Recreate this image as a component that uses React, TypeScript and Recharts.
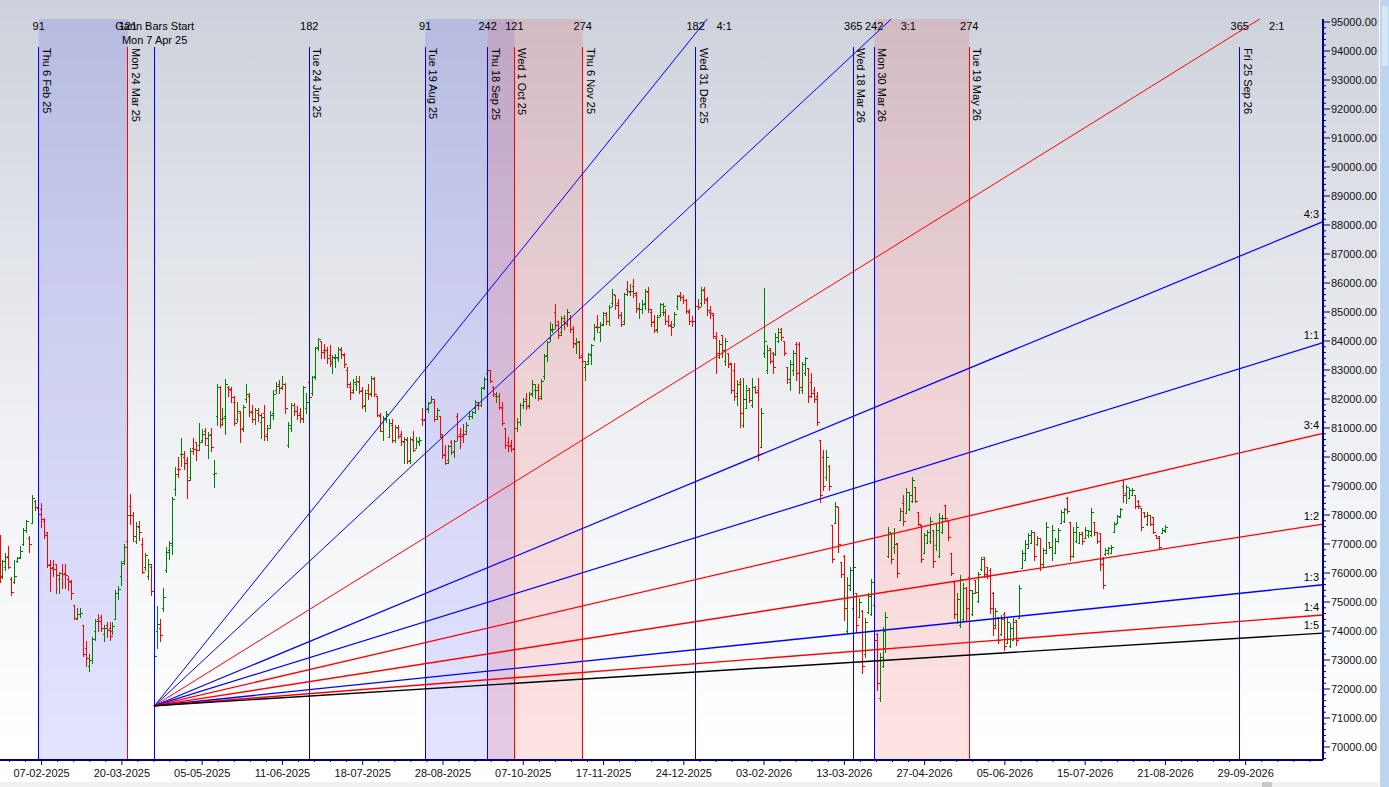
import React from 'react';
import { ComposedChart, Bar, XAxis, YAxis, ReferenceArea, ReferenceLine, ReferenceDot } from 'recharts';

type Ohlc = [number, number, number, number];

// trading-day slots 0-51 (21 Jan - 4 Apr 2025)
const barsJan25: Ohlc[] = [
  [76900, 77300, 75700, 75850], [75900, 76450, 75830, 76400], [76200, 76700, 76100, 76550], [76600, 76920, 76170, 76200],
  [75800, 75870, 75240, 75360], [75700, 76450, 75650, 75900], [76400, 76560, 76390, 76530], [76550, 76920, 76520, 76760],
  [77000, 77550, 76970, 77500], [77500, 77830, 77430, 77780], [77200, 77270, 76740, 77000], [77710, 78690, 77710, 78580],
  [78500, 78520, 78170, 78270], [78250, 78300, 77600, 78050], [78200, 78400, 77600, 77860], [77800, 77900, 77200, 77311],
  [77400, 77400, 76200, 76293], [76300, 76450, 75390, 76171], [76200, 76450, 75900, 76138], [76300, 76300, 75300, 75939],
  [75800, 76050, 75300, 75997], [76000, 76300, 75500, 75967], [76000, 76300, 75480, 75939], [75800, 75900, 75400, 75736],
  [75700, 75750, 75100, 75311], [74900, 74900, 74400, 74454], [74400, 74800, 74400, 74602], [74600, 74800, 74500, 74612],
  [74200, 74200, 73140, 73198], [73400, 73650, 72800, 73086], [72800, 73200, 72630, 72990], [73000, 73800, 72900, 73730],
  [74000, 74400, 73700, 74340], [74400, 74600, 74000, 74333], [74500, 74550, 74000, 74115], [73900, 74200, 73650, 74102],
  [74200, 74300, 73800, 74030], [74100, 74300, 73700, 73829], [74000, 74300, 73900, 74170], [74400, 75400, 74400, 75301],
  [75300, 75550, 75100, 75449], [75900, 76400, 75600, 76348], [76400, 77000, 76300, 76906], [77100, 78100, 77000, 77984],
  [78300, 78740, 77700, 78017], [78000, 78100, 77100, 77288], [77100, 77750, 77050, 77606], [77600, 77800, 77150, 77415],
  [77000, 77200, 76000, 76025], [76200, 76700, 76100, 76617], [75900, 76500, 75800, 76295], [76200, 76300, 75250, 75365],
];

// slots 52-108 (7 Apr - 30 Jun 2025)
const barsApr25: Ohlc[] = [
  [71450, 73400, 71425, 73138], [74000, 74860, 73400, 74227], [74100, 74400, 73670, 73847], [74800, 75470, 74700, 75157],
  [76100, 76900, 76050, 76735], [76800, 77100, 76500, 77044], [76970, 78620, 76660, 78553], [78900, 79640, 78700, 79408],
  [79600, 80000, 79300, 79596], [80100, 80640, 79700, 80116], [80000, 80200, 79600, 79801], [79900, 80000, 78600, 79212],
  [79300, 80300, 79200, 80218], [80300, 80660, 80100, 80288], [80500, 80500, 79900, 80242], [80400, 81180, 80250, 80502],
  [80600, 80950, 80500, 80797], [80900, 81000, 80400, 80641], [80400, 80850, 79950, 80746], [80800, 81000, 80200, 80334],
  [79400, 79900, 78970, 79454], [81400, 82500, 81100, 82430], [82400, 82450, 81050, 81148], [81300, 81700, 81100, 81330],
  [81400, 82700, 80800, 82531], [82400, 82450, 82100, 82330], [82300, 82400, 81900, 82059], [81900, 82100, 81100, 81186],
  [81300, 81900, 81200, 81597], [81500, 81600, 80500, 80952], [81000, 81800, 80900, 81721], [82000, 82500, 81900, 82176],
  [82100, 82200, 81400, 81551], [81600, 81800, 81200, 81312], [81300, 81700, 81150, 81633], [81500, 81700, 81250, 81451],
  [81200, 81500, 80650, 81374], [81500, 81800, 80580, 80737], [80800, 81100, 80600, 80998], [81100, 81600, 81000, 81442],
  [81500, 82300, 81300, 82189], [82300, 82600, 82200, 82445], [82500, 82650, 82200, 82392], [82400, 82780, 82350, 82515],
  [82500, 82550, 81500, 81691], [80400, 81200, 80350, 81118], [81000, 81850, 80900, 81796], [81800, 81850, 81450, 81583],
  [81600, 81750, 81300, 81444], [81500, 81700, 81200, 81361], [81300, 82450, 81200, 82408], [81700, 82200, 81500, 81897],
  [82600, 83000, 81900, 82055], [82200, 82800, 82150, 82755], [82800, 83800, 82700, 83755], [83800, 84100, 83700, 84058],
  [84000, 84000, 83400, 83606],
];

// slots 109-172 (1 Jul - 30 Sep 2025)
const barsJul25: Ohlc[] = [
  [83700, 83900, 83400, 83697], [83700, 83800, 83250, 83409], [83500, 83850, 83150, 83239], [83300, 83500, 82900, 83432],
  [83400, 83550, 83100, 83442], [83400, 83800, 83300, 83712], [83700, 83800, 83400, 83536], [83500, 83600, 83100, 83190],
  [83000, 83100, 82400, 82500], [82400, 82600, 82000, 82253], [82300, 82700, 82200, 82570], [82500, 82800, 82300, 82634],
  [82600, 82800, 82200, 82259], [82300, 82400, 81700, 81757], [81800, 82300, 81600, 82200], [82300, 82500, 82000, 82186],
  [82200, 82800, 82100, 82726], [82700, 82750, 82100, 82184], [82100, 82100, 81400, 81463], [81400, 81500, 80880, 80891],
  [80900, 81400, 80600, 81337], [81300, 81600, 81200, 81481], [80700, 81300, 80700, 81185], [81100, 81300, 80500, 80599],
  [80600, 81100, 80500, 81018], [81000, 81100, 80650, 80710], [80800, 80900, 80400, 80543], [80500, 80700, 79800, 80623],
  [80600, 80700, 79800, 79857], [79900, 80700, 79800, 80604], [80600, 80900, 80200, 80235], [80300, 80700, 80300, 80539],
  [80500, 80700, 80400, 80597], [81300, 81700, 81100, 81273], [81300, 81700, 81200, 81644], [81700, 81900, 81550, 81857],
  [81900, 82100, 81900, 82000], [81900, 82000, 81250, 81307], [81400, 81700, 81300, 81635], [81400, 81400, 80700, 80786],
  [80700, 80800, 79950, 80080], [80100, 80400, 79750, 79809], [79900, 80400, 79800, 80364], [80500, 80600, 80100, 80157],
  [80200, 80600, 80000, 80567], [81400, 81500, 80600, 80718], [80800, 81000, 80300, 80710], [80800, 81150, 80500, 80787],
  [80900, 81200, 80800, 81101], [81400, 81600, 81300, 81425], [81400, 81600, 81350, 81548], [81700, 81950, 81500, 81904],
  [81800, 81900, 81650, 81785], [81800, 82400, 81750, 82380], [82400, 82750, 82350, 82693], [82900, 83150, 82700, 83013],
  [83000, 83000, 82600, 82626], [82400, 82450, 82100, 82160], [82100, 82250, 81900, 82102], [82100, 82200, 81650, 81716],
  [81700, 81900, 81100, 81160], [81000, 81000, 80300, 80426], [80500, 80700, 80200, 80365], [80400, 80600, 80200, 80268],
];

// slots 173-234 (1 Oct - 31 Dec 2025)
const barsOct25: Ohlc[] = [
  [80300, 81000, 80200, 80983], [81000, 81350, 80900, 81207], [81200, 81850, 81100, 81790], [81800, 82050, 81700, 81927],
  [82000, 82200, 81650, 81774], [81800, 82250, 81700, 82172], [82200, 82650, 82100, 82501], [82300, 82500, 82050, 82327],
  [82400, 82500, 81950, 82030], [82100, 82700, 82000, 82605], [82800, 83550, 82700, 83468], [83500, 84000, 83300, 83952],
  [84100, 84650, 84000, 84363], [84400, 84600, 84300, 84426], [85000, 85290, 84450, 84556], [84700, 84700, 84100, 84212],
  [84300, 84850, 84200, 84779], [84700, 84900, 84400, 84629], [84600, 85100, 84500, 84997], [84800, 84900, 84300, 84404],
  [84400, 84500, 83800, 83939], [83900, 84100, 83600, 83979], [84000, 84000, 83400, 83459], [83500, 83600, 83100, 83311],
  [83100, 83300, 82670, 83216], [83300, 83600, 83200, 83535], [83500, 83900, 83200, 83871], [84100, 84600, 84050, 84467],
  [84500, 84900, 84300, 84478], [84300, 84650, 84000, 84563], [84600, 85000, 84550, 84950], [84900, 85000, 84600, 84673],
  [84700, 85250, 84550, 85186], [85300, 85800, 85200, 85632], [85600, 85600, 85100, 85232], [85300, 85450, 84800, 84901],
  [84900, 85000, 84500, 84587], [84700, 85650, 84600, 85610], [85800, 86056, 85600, 85720], [85700, 85950, 85600, 85707],
  [85900, 86150, 85500, 85641], [85600, 85700, 85000, 85139], [85100, 85300, 84800, 85107], [85100, 85400, 84950, 85265],
  [85300, 85800, 85100, 85712], [85700, 85850, 85000, 85103], [85000, 85100, 84500, 84666], [84700, 84900, 84300, 84392],
  [84400, 84900, 84300, 84818], [84900, 85300, 84850, 85268], [85000, 85300, 84900, 85213], [85000, 85100, 84600, 84680],
  [84700, 84900, 84500, 84560], [84500, 84700, 84200, 84482], [84600, 85000, 84500, 84929], [85200, 85600, 85100, 85567],
  [85600, 85700, 85400, 85525], [85500, 85600, 85300, 85408], [85400, 85450, 84950, 85041], [85000, 85100, 84600, 84695],
  [84700, 84850, 84500, 84675], [84700, 85250, 84650, 85220],
];

// slots 235-294 (Jan - 30 Mar 2026)
const barsJan26: Ohlc[] = [
  [85200, 85450, 85100, 85188], [85300, 85850, 85200, 85762], [85800, 85850, 85300, 85440], [85400, 85500, 84900, 85063],
  [85000, 85200, 84800, 84961], [84900, 84950, 84100, 84181], [84100, 84300, 82900, 83576], [83450, 84040, 83420, 83900],
  [84200, 84210, 83460, 83700], [83300, 84090, 83170, 84000], [83580, 83580, 83110, 83200], [83230, 83230, 82200, 82300],
  [83000, 83230, 81970, 82100], [82200, 82650, 81790, 82500], [82600, 82710, 81050, 81500], [81100, 82710, 81050, 82000],
  [81700, 82480, 81690, 82300], [82370, 82370, 81910, 81950], [81800, 82710, 81740, 82400], [82430, 82450, 82200, 82250],
  [82300, 82710, 79900, 80100], [80360, 81690, 80360, 81500], [83600, 85820, 83460, 84000], [83000, 83860, 82890, 83700],
  [83750, 83750, 83230, 83300], [83600, 83630, 82890, 83100], [83550, 84270, 83520, 84150], [84000, 84440, 83980, 84300],
  [84400, 84450, 84040, 84150], [84000, 84000, 83520, 83600], [83100, 83110, 82540, 82700], [82600, 83340, 82310, 83200],
  [83000, 83690, 82830, 83600], [83900, 83980, 82650, 82900], [83900, 83980, 82200, 82400], [82300, 83290, 82200, 83200],
  [82900, 83460, 82830, 83400], [83060, 83060, 81910, 82100], [82600, 82890, 82080, 82200], [82300, 82400, 81910, 82000],
  [82100, 82250, 81100, 81200], [80590, 80590, 78460, 78700], [80000, 80240, 78860, 79000], [79300, 80240, 79210, 80000],
  [79700, 79720, 78860, 79000], [77660, 77660, 76390, 76500], [77710, 78460, 77710, 78300], [78290, 78290, 76740, 77000],
  [76390, 76390, 75870, 75950], [76600, 76620, 74380, 74800], [74000, 75870, 73920, 75600], [75450, 76220, 75410, 76100],
  [74800, 76390, 74720, 76200], [75300, 75300, 73980, 74200], [74500, 75130, 74500, 75000], [74700, 74720, 72540, 72800],
  [73200, 74440, 73120, 74300], [74650, 75300, 74610, 75200], [74600, 75810, 74550, 75700], [74900, 74900, 73580, 73700],
];

// slots 295-392 (Apr - Aug 2026)
const barsApr26: Ohlc[] = [
  [73900, 73920, 71970, 72200], [71700, 73230, 71570, 73100], [72800, 74150, 72770, 74000], [73400, 74670, 73290, 74500],
  [76600, 77600, 76560, 77400], [77370, 77370, 76330, 76500], [76900, 77540, 76700, 77000], [77020, 77020, 75870, 76000],
  [77830, 78230, 77830, 78150], [78400, 78690, 77660, 77800], [78060, 78920, 78060, 78800], [78200, 78800, 78170, 78700],
  [78500, 79320, 78460, 79200], [78980, 78980, 78460, 78500], [78110, 78110, 77660, 77700], [77650, 77660, 76390, 76500],
  [76700, 77370, 76680, 77300], [77050, 77480, 77020, 77400], [77100, 77940, 77020, 77800], [77480, 77480, 76220, 76400],
  [76950, 77710, 76800, 77500], [76600, 78060, 76560, 77900], [77400, 78000, 77370, 77900], [78340, 78340, 77830, 77900],
  [77800, 77830, 77140, 77250], [76680, 76680, 75930, 76000], [75700, 75700, 74440, 74600], [74300, 75300, 74270, 75100],
  [74200, 75930, 74150, 75800], [74400, 75650, 74330, 75500], [75500, 75530, 74330, 74800], [75870, 75870, 75300, 75400],
  [74600, 75410, 74550, 75300], [75760, 75760, 75300, 75350], [75050, 76050, 75010, 75950], [76150, 76560, 76110, 76500],
  [76560, 76560, 75870, 75950], [76200, 76220, 75820, 75900], [76100, 76160, 74610, 74800], [75300, 75360, 73860, 74100],
  [74200, 74790, 74150, 74700], [74500, 74500, 73580, 73700], [73900, 74550, 73860, 74400], [74600, 74670, 73350, 73500],
  [73600, 74440, 73580, 74300], [73500, 74270, 73460, 74100], [73700, 74440, 73690, 74300], [74380, 74380, 73520, 73700],
  [74450, 75590, 74440, 75500], [76160, 76800, 76160, 76700], [76450, 77140, 76450, 77000], [76850, 77370, 76850, 77300],
  [77050, 77480, 77020, 77400], [77400, 77420, 76450, 76600], [77000, 77260, 76970, 77200], [77200, 77200, 76110, 76300],
  [76300, 76850, 76220, 76800], [76700, 77760, 76680, 77600], [77080, 77080, 76850, 76900], [76900, 77660, 76450, 77500],
  [76700, 77200, 76680, 77100], [77100, 77540, 77080, 77500], [77710, 78170, 77710, 78100], [77800, 78230, 77760, 78200],
  [78600, 78630, 78060, 78150], [77760, 77760, 76450, 76600], [76600, 77600, 76560, 77400], [77100, 77760, 77080, 77600],
  [77050, 77430, 77020, 77350], [77400, 77420, 77000, 77100], [77200, 77600, 77200, 77500], [77300, 77500, 77250, 77450],
  [77300, 78230, 77260, 78100], [77760, 77760, 77310, 77400], [77430, 77430, 77020, 77100], [77370, 77370, 76110, 76300],
  [76500, 76560, 75480, 75600], [76650, 76850, 76620, 76800], [76700, 76900, 76650, 76850], [76700, 76960, 76680, 76900],
  [77420, 77760, 77420, 77700], [77710, 78000, 77710, 77950], [77940, 78230, 77940, 78200], [79000, 79210, 78460, 78700],
  [78750, 79040, 78400, 78950], [78600, 78920, 78580, 78850], [78700, 78920, 78690, 78850], [78690, 78690, 78230, 78300],
  [78500, 78520, 78230, 78300], [78230, 78230, 77480, 77600], [78110, 78110, 77940, 77950], [77700, 78110, 77660, 78000],
  [78000, 78000, 77660, 77700], [77940, 77940, 77370, 77400], [77310, 77310, 77200, 77220], [77260, 77260, 76850, 76900],
  [77370, 77540, 77370, 77500], [77450, 77660, 77420, 77600],
];

const segments = [
  { start: 0, rows: barsJan25 },
  { start: 52, rows: barsApr25 },
  { start: 109, rows: barsJul25 },
  { start: 173, rows: barsOct25 },
  { start: 235, rows: barsJan26 },
  { start: 295, rows: barsApr26 },
];

// x axis (trading-day slots)
const lastSlot = 445;
const tickSlots = [14, 41, 68, 95, 122, 149, 176, 203, 230, 257, 284, 311, 338, 365, 392, 419];
const tickLabels = [
  '07-02-2025', '20-03-2025', '05-05-2025', '11-06-2025', '18-07-2025', '28-08-2025', '07-10-2025', '17-11-2025',
  '24-12-2025', '03-02-2026', '13-03-2026', '27-04-2026', '05-06-2026', '15-07-2026', '21-08-2026', '29-09-2026',
];

// price axis
const priceMin = 69552;
const priceMax = 95103;
const priceLabels = [70000, 71000, 72000, 73000, 74000, 75000, 76000, 77000, 78000, 79000, 80000, 81000, 82000,
  83000, 84000, 85000, 86000, 87000, 88000, 89000, 90000, 91000, 92000, 93000, 94000, 95000];

// time markers
const markerSlots = [13, 43, 52, 104, 143, 164, 173, 196, 234, 287, 294, 326, 417];
const markerDates = ['Thu 6 Feb 25', 'Mon 24 Mar 25', '', 'Tue 24 Jun 25', 'Tue 19 Aug 25', 'Thu 18 Sep 25',
  'Wed 1 Oct 25', 'Thu 6 Nov 25', 'Wed 31 Dec 25', 'Wed 18 Mar 26', 'Mon 30 Mar 26', 'Tue 19 May 26', 'Fri 25 Sep 26'];
const markerCounts = ['91', '121', '', '182', '91', '242', '121', '274', '182', '365', '242', '274', '365'];
const markerTopPrice = 94138;

const blueCycles = [[13, 43], [143, 173]];
const redCycles = [[164, 196], [294, 326]];

// Gann fan
const gannStartSlot = 52;
const gannStartPrice = 71425;
const gannUnit = 31.85;
const fanNames = ['4:1', '3:1', '2:1', '4:3', '1:1', '3:4', '1:2', '1:3', '1:4', '1:5'];
const fanSlopes = [4, 3, 2, 4 / 3, 1, 3 / 4, 1 / 2, 1 / 3, 1 / 4, 1 / 5];

// styles
const BLUE = '#0000ff';
const RED = '#ff0000';
const NAVY = '#000080';
const FONT = "'Liberation Sans', Arial, sans-serif";
const markerStroke = [BLUE, RED, BLUE, BLUE, BLUE, BLUE, RED, RED, BLUE, BLUE, BLUE, RED, BLUE];
const fanStroke = [BLUE, BLUE, RED, BLUE, BLUE, RED, RED, BLUE, RED, '#000000'];
const fanWidth = [1, 1, 1, 1.2, 1.2, 1.3, 1.4, 1.4, 1.4, 1.4];

const bars = segments.flatMap((seg) =>
  seg.rows.map(([o, h, l, c], i) => ({ slot: seg.start + i, o, h, l, c }))
);

const fans = fanNames.map((name, i) => {
  const slope = fanSlopes[i] * gannUnit;
  const topSlot = gannStartSlot + (priceMax - gannStartPrice) / slope;
  const exitsTop = topSlot <= lastSlot;
  const endSlot = exitsTop ? topSlot : lastSlot;
  const endPrice = exitsTop ? priceMax : gannStartPrice + slope * (lastSlot - gannStartSlot);
  return { name, endSlot, endPrice, exitsTop, stroke: fanStroke[i], width: fanWidth[i] };
});

const minorX: number[] = [];
[tickSlots[0] - 27, ...tickSlots].forEach((m) => {
  for (let k = 1; k < 5; k++) {
    const v = m + k * 5.4;
    if (v > 0 && v < lastSlot) minorX.push(v);
  }
});
const xTicks = [...tickSlots, ...minorX].sort((a, b) => a - b);

const yTicks: number[] = [];
for (let v = 69600; v <= 95000; v += 200) yTicks.push(v);

const txt = { fontFamily: FONT, fontSize: 11, fill: '#000' };

const OhlcShape = (props: any) => {
  const { x, y, width, height, payload } = props;
  if (!payload) return null;
  const { o, h, l, c } = payload;
  const top = Math.min(y, y + height);
  const bottom = Math.max(y, y + height);
  const span = h - l || 1;
  const py = (v: number) => Math.round(top + ((h - v) / span) * (bottom - top)) + 0.5;
  const cx = Math.round(x + width / 2) + 0.5;
  const col = c >= o ? '#008000' : RED;
  return (
    <g stroke={col} strokeWidth={1} shapeRendering="crispEdges">
      <line x1={cx} x2={cx} y1={top} y2={bottom + 1} />
      <line x1={cx - 2} x2={cx} y1={py(o)} y2={py(o)} />
      <line x1={cx} x2={cx + 2} y1={py(c)} y2={py(c)} />
    </g>
  );
};

const XTick = (props: any) => {
  const { x, y, payload } = props;
  const idx = tickSlots.indexOf(payload.value);
  const major = idx >= 0;
  return (
    <g>
      <line x1={x} x2={x} y1={y} y2={y + (major ? 5 : 2)} stroke={NAVY} strokeWidth={1} />
      {major && (
        <text x={x} y={y + 17} textAnchor="middle" {...txt} fill="#111">
          {tickLabels[idx]}
        </text>
      )}
    </g>
  );
};

const YTick = (props: any) => {
  const { x, y, payload } = props;
  const v = payload.value;
  const major = priceLabels.includes(v);
  return (
    <g>
      <line x1={x} x2={x + (major ? 7 : 3)} y1={y} y2={y} stroke={NAVY} strokeWidth={1} />
      {major && (
        <text x={x + 8} y={y + 4} {...txt} fill="#111">
          {v.toFixed(2)}
        </text>
      )}
    </g>
  );
};

export default function App() {
  return (
    <div
      style={{
        position: 'absolute',
        left: 0,
        top: 0,
        width: 1389,
        height: 787,
        overflow: 'hidden',
        background: 'linear-gradient(to bottom, #ccd1db 0%, #dadde4 20%, #eceef2 50%, #f7f8fa 75%, #ffffff 95%)',
      }}
    >
      <div style={{ position: 'absolute', left: 0, top: 782, width: 1389, height: 5, background: '#f0f0f0' }} />
      <div style={{ position: 'absolute', left: 1262, top: 782, width: 10, height: 5, background: '#c8c8c8' }} />
      <div style={{ position: 'absolute', left: 1379, top: 0, width: 10, height: 787, background: '#bcd4ed', borderLeft: '1px solid #ffffff' }} />
      <div style={{ position: 'absolute', left: 1382, top: 6, width: 6, height: 60, background: '#d8e7f6' }} />
      <div style={{ position: 'absolute', left: 0, top: 0 }}>
        <ComposedChart width={1389} height={787} data={bars} margin={{ top: 19, right: 10, bottom: 0, left: 0 }}>
          {blueCycles.map(([a, b], i) => (
            <ReferenceArea key={`b${i}`} x1={a} x2={b} fill={BLUE} fillOpacity={0.11} stroke="none" ifOverflow="visible" />
          ))}
          {redCycles.map(([a, b], i) => (
            <ReferenceArea key={`r${i}`} x1={a} x2={b} fill={RED} fillOpacity={0.11} stroke="none" ifOverflow="visible" />
          ))}
          <XAxis
            dataKey="slot"
            type="number"
            domain={[0, lastSlot]}
            allowDataOverflow
            ticks={xTicks}
            interval={0}
            tick={<XTick />}
            tickLine={false}
            tickSize={0}
            tickMargin={0}
            height={27}
            axisLine={{ stroke: NAVY, strokeWidth: 2 }}
          />
          <YAxis
            orientation="right"
            type="number"
            domain={[priceMin, priceMax]}
            allowDataOverflow
            ticks={yTicks}
            interval={0}
            tick={<YTick />}
            tickLine={false}
            tickSize={0}
            tickMargin={0}
            width={56}
            axisLine={{ stroke: NAVY, strokeWidth: 2 }}
          />
          {markerSlots.map((s, i) => (
            <ReferenceLine
              key={`m${i}`}
              segment={[{ x: s, y: markerTopPrice }, { x: s, y: priceMin }]}
              stroke={markerStroke[i]}
              strokeWidth={1}
              ifOverflow="visible"
              shapeRendering="crispEdges"
            />
          ))}
          {fans.map((f) => (
            <ReferenceLine
              key={f.name}
              segment={[{ x: gannStartSlot, y: gannStartPrice }, { x: f.endSlot, y: f.endPrice }]}
              stroke={f.stroke}
              strokeWidth={f.width}
              ifOverflow="visible"
            />
          ))}
          <Bar
            dataKey={(d: any) => [d.l, d.h]}
            barSize={2}
            shape={<OhlcShape />}
            isAnimationActive={false}
          />
          {markerSlots.map((s, i) => (
            <ReferenceDot
              key={`ml${i}`}
              x={s}
              y={markerTopPrice}
              r={0}
              ifOverflow="visible"
              shape={(p: any) => (
                <g>
                  {markerCounts[i] && (
                    <text x={p.cx} y={p.cy - 17} textAnchor="middle" {...txt}>
                      {markerCounts[i]}
                    </text>
                  )}
                  {markerDates[i] && (
                    <text
                      x={p.cx + 4}
                      y={p.cy + 1}
                      transform={`rotate(90 ${p.cx + 4} ${p.cy + 1})`}
                      {...txt}
                    >
                      {markerDates[i]}
                    </text>
                  )}
                  {!markerDates[i] && (
                    <>
                      <text x={p.cx} y={p.cy - 17} textAnchor="middle" {...txt}>
                        Gann Bars Start
                      </text>
                      <text x={p.cx} y={p.cy - 3} textAnchor="middle" {...txt}>
                        Mon 7 Apr 25
                      </text>
                    </>
                  )}
                </g>
              )}
            />
          ))}
          {fans.map((f) => (
            <ReferenceDot
              key={`fl${f.name}`}
              x={f.endSlot}
              y={f.endPrice}
              r={0}
              ifOverflow="visible"
              shape={(p: any) =>
                f.exitsTop ? (
                  <text x={p.cx + 17} y={p.cy + 11} textAnchor="middle" {...txt}>
                    {f.name}
                  </text>
                ) : (
                  <text x={p.cx - 4} y={p.cy - 4} textAnchor="end" {...txt}>
                    {f.name}
                  </text>
                )
              }
            />
          ))}
        </ComposedChart>
      </div>
    </div>
  );
}
